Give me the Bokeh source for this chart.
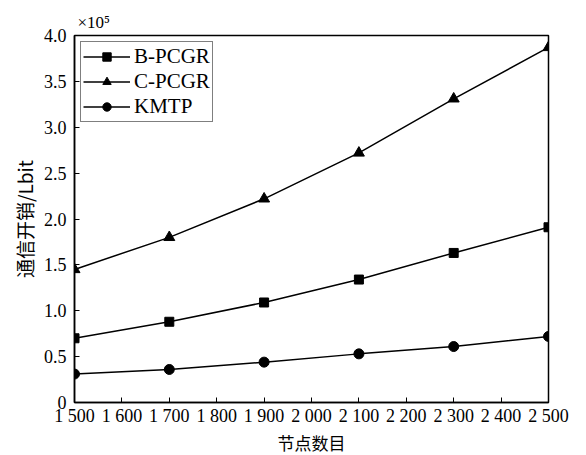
from bokeh.plotting import figure
from bokeh.embed import file_html
from bokeh.resources import INLINE
from bokeh.models import FixedTicker, Legend, LegendItem, Title

nodes = [1500, 1700, 1900, 2100, 2300, 2500]
b_pcgr = [0.70, 0.88, 1.09, 1.34, 1.63, 1.91]
c_pcgr = [1.45, 1.80, 2.22, 2.72, 3.31, 3.87]
kmtp = [0.31, 0.36, 0.44, 0.53, 0.61, 0.72]

x_ticks = list(range(1500, 2501, 100))
x_tick_labels = ["1 500", "1 600", "1 700", "1 800", "1 900", "2 000",
                 "2 100", "2 200", "2 300", "2 400", "2 500"]
y_ticks = [0, 0.5, 1.0, 1.5, 2.0, 2.5, 3.0, 3.5, 4.0]
y_tick_labels = ["0", "0.5", "1.0", "1.5", "2.0", "2.5", "3.0", "3.5", "4.0"]

SERIF = "Liberation Serif"
CJK = "Noto Sans CJK SC"

p = figure(width=578, height=450, output_backend="svg", toolbar_location=None,
           x_range=(1500, 2500), y_range=(0, 4.0),
           min_border_left=74, min_border_right=30, min_border_top=35, min_border_bottom=48)
p.frame_width = 474
p.frame_height = 367
p.grid.visible = False
p.outline_line_color = "black"
p.outline_line_width = 1.5
p.background_fill_color = "white"

for ax in (p.xaxis[0], p.yaxis[0]):
    ax.major_tick_in = 5
    ax.major_tick_out = 0
    ax.minor_tick_in = 0
    ax.minor_tick_out = 0
    ax.axis_line_color = "black"
    ax.axis_line_width = 1.5
    ax.major_tick_line_color = "black"
    ax.major_label_text_font = SERIF
    ax.major_label_text_font_size = "18px"
    ax.major_label_text_color = "black"
    ax.axis_label_text_font_style = "normal"
    ax.axis_label_text_color = "black"

p.xaxis.ticker = FixedTicker(ticks=x_ticks)
p.xaxis.major_label_overrides = {t: l for t, l in zip(x_ticks, x_tick_labels)}
p.xaxis.major_label_standoff = 3
p.xaxis.axis_label = "节点数目"
p.xaxis.axis_label_text_font = CJK
p.xaxis.axis_label_text_font_size = "17px"
p.xaxis.axis_label_standoff = 1

p.yaxis.ticker = FixedTicker(ticks=y_ticks)
p.yaxis.major_label_overrides = {t: l for t, l in zip(y_ticks, y_tick_labels)}
p.yaxis.major_label_standoff = 8
p.yaxis.axis_label = "通信开销/Lbit"
p.yaxis.axis_label_text_font = CJK
p.yaxis.axis_label_text_font_size = "19px"
p.yaxis.axis_label_standoff = 3

lb = p.line(nodes, b_pcgr, line_color="black", line_width=1.5)
mb = p.scatter(nodes, b_pcgr, marker="square", size=9, fill_color="black", line_color="black")
lc = p.line(nodes, c_pcgr, line_color="black", line_width=1.5)
mc = p.scatter(nodes, c_pcgr, marker="triangle", size=11, fill_color="black", line_color="black")
lk = p.line(nodes, kmtp, line_color="black", line_width=1.5)
mk = p.scatter(nodes, kmtp, marker="circle", size=10, fill_color="black", line_color="black")

legend = Legend(items=[
    LegendItem(label="B-PCGR", renderers=[lb, mb]),
    LegendItem(label="C-PCGR", renderers=[lc, mc]),
    LegendItem(label="KMTP", renderers=[lk, mk]),
], location="top_left")
legend.border_line_color = "black"
legend.border_line_width = 1.5
legend.label_text_font = SERIF
legend.label_text_font_size = "21px"
legend.label_text_color = "black"
legend.glyph_width = 47
legend.glyph_height = 21
legend.label_height = 21
legend.spacing = 0
legend.padding = 2
legend.margin = 6
legend.label_standoff = 4
legend.background_fill_alpha = 1
p.add_layout(legend)

p.add_layout(Title(text="×10⁵", align="left", offset=3, text_font=SERIF,
                   text_font_size="17px", text_font_style="normal", text_color="black",
                   standoff=8), "above")

open("out.html", "w").write(file_html(p, INLINE))
